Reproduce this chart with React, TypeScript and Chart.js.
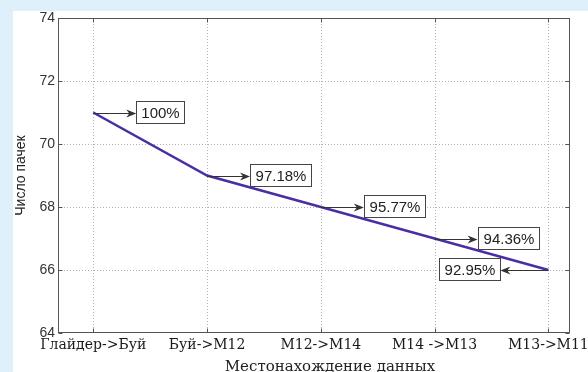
import React, { useEffect, useRef } from "react";
import { Chart, registerables } from "chart.js";

Chart.register(...registerables);

// Route segments along the x axis
const routes = ["Глайдер->Буй", "Буй->M12", "M12->M14", "M14 ->M13", "M13->M11"];
// Number of packets delivered on each segment
const packetCounts = [71, 69, 68, 67, 66];
// Share of packets kept, relative to the first segment
const deliveryShares = ["100%", "97.18%", "95.77%", "94.36%", "92.95%"];
// Callout direction for each point: 1 = to the right, -1 = to the left
const calloutSides = [1, 1, 1, 1, -1];
const yTicks = [64, 66, 68, 70, 72, 74];

const X_TITLE = "Местонахождение данных";
const Y_TITLE = "Число пачек";

const CANVAS_W = 600;
const CANVAS_H = 361;

const SANS = "'Liberation Sans', Arial, sans-serif";
const SERIF = "'DejaVu Serif', serif";

const decorPlugin = {
  id: "decor",
  beforeDatasetsDraw(chart: any) {
    const { ctx, chartArea: a, scales } = chart;
    const xs = scales.x;
    const ys = scales.y;
    ctx.save();
    ctx.strokeStyle = "rgba(0,0,0,0.3)";
    ctx.lineWidth = 1;
    ctx.setLineDash([1, 2]);
    routes.forEach((_, i) => {
      const px = Math.round(xs.getPixelForValue(i + 1)) + 0.5;
      ctx.beginPath();
      ctx.moveTo(px, a.top);
      ctx.lineTo(px, a.bottom);
      ctx.stroke();
    });
    yTicks.slice(1, -1).forEach((v) => {
      const py = Math.round(ys.getPixelForValue(v)) + 0.5;
      ctx.beginPath();
      ctx.moveTo(a.left, py);
      ctx.lineTo(a.right, py);
      ctx.stroke();
    });
    ctx.restore();
  },
  afterDatasetsDraw(chart: any) {
    const { ctx, chartArea: a, scales } = chart;
    const xs = scales.x;
    const ys = scales.y;
    ctx.save();

    // frame and inward tick marks
    ctx.strokeStyle = "#555";
    ctx.lineWidth = 1;
    ctx.setLineDash([]);
    const l = Math.round(a.left) + 0.5;
    const r = Math.round(a.right) - 0.5;
    const t = Math.round(a.top) + 0.5;
    const b = Math.round(a.bottom) - 0.5;
    ctx.strokeRect(l, t, r - l, b - t);
    ctx.beginPath();
    routes.forEach((_, i) => {
      const px = Math.round(xs.getPixelForValue(i + 1)) + 0.5;
      ctx.moveTo(px, b);
      ctx.lineTo(px, b - 4);
      ctx.moveTo(px, t);
      ctx.lineTo(px, t + 4);
    });
    yTicks.forEach((v) => {
      const py = Math.round(ys.getPixelForValue(v)) + 0.5;
      ctx.moveTo(l, py);
      ctx.lineTo(l + 4, py);
      ctx.moveTo(r, py);
      ctx.lineTo(r - 4, py);
    });
    ctx.stroke();

    // callouts: arrow from each point to a boxed percentage
    ctx.font = `15px ${SANS}`;
    ctx.textBaseline = "middle";
    ctx.textAlign = "center";
    packetCounts.forEach((v, i) => {
      const px = xs.getPixelForValue(i + 1);
      const py = Math.round(ys.getPixelForValue(v)) + 0.5;
      const dir = calloutSides[i];
      const len = dir > 0 ? 43 : 48;
      const end = px + dir * len;
      ctx.strokeStyle = "#333";
      ctx.fillStyle = "#333";
      ctx.beginPath();
      ctx.moveTo(px, py);
      ctx.lineTo(end - dir * 6, py);
      ctx.stroke();
      ctx.beginPath();
      ctx.moveTo(end, py);
      ctx.lineTo(end - dir * 10, py - 4);
      ctx.lineTo(end - dir * 7, py);
      ctx.lineTo(end - dir * 10, py + 4);
      ctx.closePath();
      ctx.fill();

      const label = deliveryShares[i];
      const w = Math.round(ctx.measureText(label).width + 10);
      const h = 22;
      const bx = Math.round(dir > 0 ? end : end - w) + 0.5;
      const by = Math.round(py - 2 - h / 2) + 0.5;
      ctx.fillStyle = "#fff";
      ctx.fillRect(bx, by, w, h);
      ctx.strokeStyle = "#444";
      ctx.strokeRect(bx, by, w, h);
      ctx.fillStyle = "#222";
      ctx.fillText(label, bx + w / 2, by + h / 2 + 1);
    });

    // axis titles
    ctx.fillStyle = "#222";
    ctx.font = `15px ${SERIF}`;
    ctx.textAlign = "center";
    ctx.textBaseline = "alphabetic";
    ctx.fillText(X_TITLE, 317, 360);

    ctx.font = `14px ${SANS}`;
    ctx.translate(8, (a.top + a.bottom) / 2);
    ctx.rotate(-Math.PI / 2);
    ctx.textBaseline = "middle";
    ctx.fillText(Y_TITLE, 0, 0);
    ctx.restore();
  },
};

export default function App() {
  const canvasRef = useRef<HTMLCanvasElement | null>(null);

  useEffect(() => {
    const canvas = canvasRef.current;
    if (!canvas) return;
    const chart = new Chart(canvas, {
      type: "line",
      data: {
        datasets: [
          {
            data: packetCounts.map((v, i) => ({ x: i + 1, y: v })),
            borderColor: "#4a2ea3",
            borderWidth: 2.5,
            pointRadius: 0,
            tension: 0,
            fill: false,
          },
        ],
      },
      options: {
        responsive: false,
        animation: false,
        devicePixelRatio: 1,
        layout: { padding: { top: 7, right: 43, left: 0, bottom: 0 } },
        plugins: {
          legend: { display: false },
          tooltip: { enabled: false },
        },
        scales: {
          x: {
            type: "linear",
            min: 0.69,
            max: 5.19,
            afterBuildTicks: (s: any) => {
              s.ticks = routes.map((_, i) => ({ value: i + 1 }));
            },
            afterFit: (s: any) => {
              s.height = 39;
              s.paddingLeft = 0;
              s.paddingRight = 0;
            },
            grid: { display: false, drawTicks: false },
            border: { display: false },
            ticks: {
              autoSkip: false,
              maxRotation: 0,
              minRotation: 0,
              padding: 4,
              color: "#1a1a1a",
              font: { family: SERIF, size: 14 },
              callback: (v: any) => routes[Math.round(Number(v)) - 1] ?? "",
            },
          },
          y: {
            type: "linear",
            min: 64,
            max: 74,
            afterBuildTicks: (s: any) => {
              s.ticks = yTicks.map((v) => ({ value: v }));
            },
            afterFit: (s: any) => {
              s.width = 45;
              s.paddingTop = 0;
              s.paddingBottom = 0;
            },
            grid: { display: false, drawTicks: false },
            border: { display: false },
            ticks: {
              padding: 3,
              color: "#333",
              font: { family: SANS, size: 14 },
            },
          },
        },
      },
      plugins: [decorPlugin],
    });
    return () => chart.destroy();
  }, []);

  return (
    <div
      style={{
        position: "fixed",
        left: 0,
        top: 0,
        width: 588,
        height: 372,
        overflow: "hidden",
        background: "#def1fa",
      }}
    >
      <div
        style={{
          position: "absolute",
          left: 13,
          top: 11,
          width: 600,
          height: 361,
          background: "#fff",
        }}
      >
        <canvas
          ref={canvasRef}
          width={CANVAS_W}
          height={CANVAS_H}
          style={{ display: "block", width: CANVAS_W, height: CANVAS_H }}
        />
      </div>
    </div>
  );
}
